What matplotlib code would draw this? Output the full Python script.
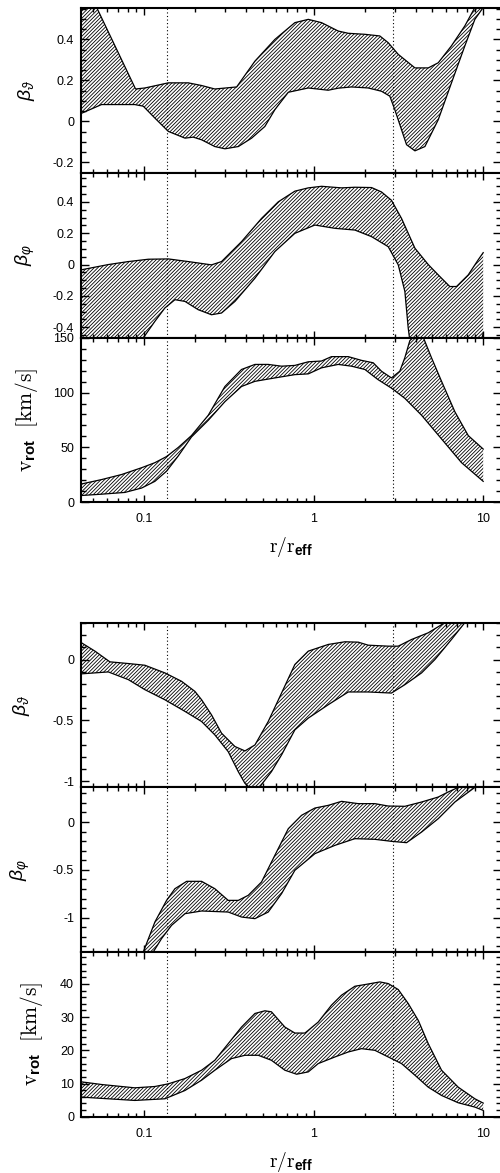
import numpy as np
import matplotlib
matplotlib.use('Agg')
import matplotlib.pyplot as plt
from matplotlib.collections import LineCollection
from matplotlib.ticker import MultipleLocator, FuncFormatter, LogLocator, NullFormatter, FixedLocator, FixedFormatter

plt.rcParams.update({
    'font.family': ['Liberation Sans', 'DejaVu Sans'],
    'mathtext.fontset': 'custom',
    'mathtext.rm': 'cmr10',
    'mathtext.it': 'Liberation Sans:italic',
    'mathtext.bf': 'Liberation Sans:bold',
    'mathtext.fallback': 'cm',
    'axes.unicode_minus': False,
    'axes.linewidth': 1.5,
})

# ---------------- data ----------------
# radii of the two vertical dotted markers
r_marks = [0.1355, 2.94]

# upper group: beta_theta
r_bt1_hi = [0.0423, 0.0524, 0.0889, 0.1009, 0.1387, 0.182, 0.218, 0.261, 0.351, 0.450, 0.590, 0.774, 0.929, 1.112, 1.395, 1.599, 2.005, 2.455, 2.752, 3.154, 3.956, 4.74, 5.43, 6.50, 7.79, 8.93, 10.0]
bt1_hi = [0.70, 0.556, 0.158, 0.163, 0.188, 0.188, 0.175, 0.158, 0.168, 0.294, 0.400, 0.482, 0.498, 0.482, 0.441, 0.430, 0.425, 0.417, 0.384, 0.327, 0.261, 0.261, 0.286, 0.369, 0.466, 0.556, 0.62]
r_bt1_lo = [0.0423, 0.056, 0.088, 0.0987, 0.1156, 0.1387, 0.174, 0.1946, 0.218, 0.261, 0.2993, 0.359, 0.430, 0.515, 0.590, 0.708, 0.929, 1.218, 1.395, 1.671, 2.097, 2.512, 2.812, 3.01, 3.53, 3.956, 4.53, 5.43, 6.50, 7.79, 8.93, 10.0]
bt1_lo = [0.038, 0.082, 0.082, 0.074, 0.016, -0.049, -0.082, -0.077, -0.090, -0.123, -0.134, -0.123, -0.082, -0.025, 0.057, 0.142, 0.163, 0.152, 0.162, 0.168, 0.163, 0.147, 0.123, 0.057, -0.114, -0.144, -0.123, 0.008, 0.188, 0.368, 0.498, 0.556]

# upper group: beta_phi
r_bp1_hi = [0.0423, 0.0614, 0.0805, 0.1057, 0.1387, 0.182, 0.2494, 0.2858, 0.375, 0.492, 0.618, 0.774, 0.929, 1.112, 1.459, 1.750, 2.194, 2.512, 2.875, 3.298, 3.956, 4.74, 5.43, 6.35, 6.96, 8.16, 9.34, 10.0]
bp1_hi = [-0.034, 0.0, 0.019, 0.034, 0.036, 0.019, -0.002, 0.019, 0.146, 0.294, 0.400, 0.468, 0.489, 0.499, 0.489, 0.493, 0.491, 0.463, 0.410, 0.294, 0.104, 0.0, -0.066, -0.140, -0.140, -0.066, 0.030, 0.076]
r_bp1_lo = [0.0423, 0.07, 0.0987, 0.1156, 0.1324, 0.1518, 0.174, 0.2084, 0.2494, 0.2858, 0.343, 0.450, 0.590, 0.774, 1.016, 1.334, 1.750, 2.194, 2.752, 3.154, 3.45, 3.61, 3.78, 4.5, 6.0, 8.0, 9.5, 10.0]
bp1_lo = [-0.95, -0.65, -0.468, -0.362, -0.277, -0.224, -0.235, -0.288, -0.320, -0.309, -0.235, -0.087, 0.083, 0.199, 0.252, 0.231, 0.220, 0.178, 0.114, -0.002, -0.171, -0.404, -0.57, -0.85, -0.85, -0.7, -0.52, -0.44]

# upper group: v_rot
r_v1_hi = [0.0426, 0.056, 0.0735, 0.0965, 0.1156, 0.1355, 0.1589, 0.190, 0.2387, 0.2993, 0.375, 0.450, 0.539, 0.646, 0.774, 0.929, 1.112, 1.273, 1.599, 1.914, 2.244, 2.512, 2.875, 3.22, 3.45, 3.69, 3.956, 4.43, 4.95, 5.68, 6.81, 8.16, 10.0]
v1_hi = [16.7, 20.7, 25.3, 31.5, 36.1, 41.7, 50.0, 60.8, 79.3, 105.5, 121.0, 125.6, 125.6, 124.0, 124.7, 128.0, 128.7, 132.7, 132.7, 129.3, 127.1, 119.4, 113.3, 119.4, 131.8, 147.2, 151.8, 150.3, 131.8, 110.2, 82.4, 60.8, 48.5]
r_v1_lo = [0.0426, 0.056, 0.0769, 0.0965, 0.1156, 0.1355, 0.1589, 0.190, 0.2387, 0.2993, 0.375, 0.450, 0.590, 0.774, 0.929, 1.112, 1.395, 1.671, 2.005, 2.40, 2.875, 3.45, 4.33, 5.68, 7.45, 10.0]
v1_lo = [6.2, 7.4, 9.0, 13.0, 19.1, 28.4, 42.3, 59.5, 74.7, 91.7, 105.5, 110.2, 113.3, 116.3, 117.0, 122.5, 125.6, 124.0, 121.0, 111.7, 104.0, 94.7, 79.3, 57.7, 36.1, 19.1]

# lower group: beta_theta
r_bt2_hi = [0.0426, 0.0512, 0.0627, 0.0805, 0.1009, 0.1324, 0.166, 0.199, 0.218, 0.2494, 0.2858, 0.343, 0.393, 0.450, 0.539, 0.646, 0.774, 0.929, 1.218, 1.527, 1.830, 2.097, 2.752, 3.154, 3.78, 4.74, 5.94, 6.5, 10.0]
bt2_hi = [0.138, 0.069, -0.019, -0.033, -0.047, -0.110, -0.179, -0.262, -0.331, -0.455, -0.606, -0.716, -0.752, -0.703, -0.510, -0.276, -0.041, 0.069, 0.124, 0.146, 0.143, 0.118, 0.110, 0.110, 0.165, 0.220, 0.303, 0.33, 0.6]
r_bt2_lo = [0.0426, 0.0614, 0.0805, 0.1009, 0.1324, 0.174, 0.218, 0.261, 0.313, 0.359, 0.393, 0.430, 0.481, 0.563, 0.646, 0.774, 0.929, 1.218, 1.599, 2.097, 2.875, 3.45, 4.33, 5.19, 6.50, 7.79, 10.0]
bt2_lo = [-0.118, -0.102, -0.165, -0.248, -0.331, -0.427, -0.510, -0.620, -0.758, -0.923, -1.019, -1.07, -1.047, -0.923, -0.785, -0.579, -0.482, -0.372, -0.267, -0.267, -0.276, -0.207, -0.110, 0.0, 0.165, 0.303, 0.5]

# lower group: beta_phi
r_bp2_hi = [0.09, 0.0987, 0.1156, 0.1355, 0.1518, 0.178, 0.218, 0.261, 0.313, 0.359, 0.411, 0.492, 0.590, 0.708, 0.848, 1.016, 1.218, 1.459, 1.830, 2.296, 2.752, 3.45, 4.33, 5.43, 6.22, 7.13, 10.0]
bp2_hi = [-1.63, -1.359, -1.045, -0.819, -0.697, -0.620, -0.620, -0.697, -0.819, -0.819, -0.766, -0.627, -0.348, -0.070, 0.070, 0.146, 0.174, 0.216, 0.192, 0.192, 0.167, 0.164, 0.209, 0.261, 0.314, 0.362, 0.6]
r_bp2_lo = [0.09, 0.1, 0.113, 0.1265, 0.145, 0.174, 0.218, 0.313, 0.375, 0.450, 0.539, 0.646, 0.774, 1.016, 1.334, 1.750, 2.296, 2.875, 3.53, 4.33, 5.43, 6.81, 8.93, 10.0]
bp2_lo = [-1.9, -1.62, -1.359, -1.219, -1.080, -0.958, -0.930, -0.941, -0.993, -1.010, -0.941, -0.749, -0.505, -0.331, -0.244, -0.174, -0.181, -0.202, -0.216, -0.105, 0.035, 0.209, 0.362, 0.45]

# lower group: v_rot
r_v2_hi = [0.0426, 0.056, 0.088, 0.1156, 0.1387, 0.174, 0.218, 0.261, 0.313, 0.375, 0.450, 0.515, 0.563, 0.676, 0.774, 0.888, 1.063, 1.273, 1.459, 1.750, 2.005, 2.455, 2.752, 3.154, 3.61, 4.14, 4.74, 5.68, 7.12, 8.93, 10.0]
v2_hi = [10.5, 9.7, 8.7, 9.1, 9.9, 11.5, 14.0, 17.0, 22.0, 27.0, 31.1, 31.9, 31.6, 27.0, 25.2, 25.2, 28.5, 33.6, 36.6, 39.3, 39.8, 40.6, 40.1, 38.3, 34.1, 29.0, 22.0, 14.0, 8.9, 5.4, 4.1]
r_v2_lo = [0.0426, 0.0614, 0.088, 0.1324, 0.174, 0.218, 0.261, 0.327, 0.393, 0.471, 0.563, 0.676, 0.793, 0.929, 1.063, 1.334, 1.599, 1.914, 2.296, 2.752, 3.298, 3.956, 4.74, 5.68, 7.12, 8.93, 10.0]
v2_lo = [5.9, 5.4, 4.9, 5.4, 7.9, 11.0, 14.0, 17.5, 18.5, 18.5, 17.0, 14.0, 12.8, 13.5, 16.0, 18.0, 19.5, 20.5, 20.0, 18.0, 16.0, 12.5, 8.9, 6.4, 4.2, 2.9, 1.9]

x_ticks = [0.1, 1, 10]
x_ticklabels = ['0.1', '1', '10']
lab_bt = r'$\beta_{\vartheta}$'
lab_bp = r'$\beta_{\varphi}$'
lab_v = r'$\mathrm{v}_{\mathbf{rot}}\ \ \mathrm{[km/s]}$'
lab_x = r'$\mathrm{r/r}_{\mathbf{eff}}$'

# ---------------- layout ----------------
W, H = 500.0, 1173.0
fig = plt.figure(figsize=(W / 100, H / 100), dpi=100)
left_px, right_px = 81.0, 501.5
ph = 164.67
group_tops = [8.3, 622.7]
xlabel_y = [-0.271, -0.272]
xlim = (10 ** -1.373, 10 ** 1.108)
hatch_step_px = 3.6   # horizontal spacing of the 45-degree hatch lines
hatch_lw = 0.6


def hatch_lines(ax_w_px, ax_h_px, step_px):
    """Diagonal hatch segments in axes-fraction coordinates (style only)."""
    segs = []
    x0 = -ax_h_px
    while x0 < ax_w_px:
        segs.append([(x0 / ax_w_px, 0.0), ((x0 + ax_h_px) / ax_w_px, 1.0)])
        x0 += step_px
    return segs


panels = [
    # group, index, (r_hi, hi, r_lo, lo), ylim, major, minor, label, labelx, labelsize
    (0, 0, (r_bt1_hi, bt1_hi, r_bt1_lo, bt1_lo), (-0.252, 0.552), 0.2, 0.05, lab_bt, -0.105, 14),
    (0, 1, (r_bp1_hi, bp1_hi, r_bp1_lo, bp1_lo), (-0.466, 0.584), 0.2, 0.05, lab_bp, -0.105, 14),
    (0, 2, (r_v1_hi, v1_hi, r_v1_lo, v1_lo), (0, 150), 50, 10, lab_v, -0.097, 15.5),
    (1, 0, (r_bt2_hi, bt2_hi, r_bt2_lo, bt2_lo), (-1.052, 0.303), 0.5, 0.1, lab_bt, -0.117, 14),
    (1, 1, (r_bp2_hi, bp2_hi, r_bp2_lo, bp2_lo), (-1.359, 0.362), 0.5, 0.1, lab_bp, -0.117, 14),
    (1, 2, (r_v2_hi, v2_hi, r_v2_lo, v2_lo), (0, 49.6), 10, 2, lab_v, -0.086, 15.5),
]

fmt = FuncFormatter(lambda v, p: ('%g' % round(v, 6)))

for g, i, (rh, yh, rl, yl), ylim, major, minor, ylab, lx, lsz in panels:
    ytop = group_tops[g] + i * ph
    ax = fig.add_axes([left_px / W, 1 - (ytop + ph) / H, (right_px - left_px) / W, ph / H])
    ax.set_xscale('log')
    ax.set_xlim(*xlim)
    ax.set_ylim(*ylim)
    xs = np.concatenate([np.asarray(rh), np.asarray(rl)[::-1]])
    ys = np.concatenate([np.asarray(yh), np.asarray(yl)[::-1]])
    band = ax.fill(xs, ys, facecolor='none', edgecolor='none', linewidth=0)[0]
    lc = LineCollection(hatch_lines(right_px - left_px, ph, hatch_step_px),
                        transform=ax.transAxes, colors='black', linewidths=hatch_lw)
    ax.add_collection(lc, autolim=False)
    lc.set_clip_path(band)
    ax.plot(rh, yh, color='black', lw=0.9)
    ax.plot(rl, yl, color='black', lw=0.9)
    for rm in r_marks:
        ax.axvline(rm, color='black', lw=0.8, ls=(0, (1, 2.2)))
    ax.set_xlim(*xlim)
    ax.set_ylim(*ylim)
    ax.yaxis.set_major_locator(MultipleLocator(major))
    ax.yaxis.set_minor_locator(MultipleLocator(minor))
    ax.yaxis.set_major_formatter(fmt)
    ax.xaxis.set_major_locator(FixedLocator(x_ticks))
    ax.xaxis.set_minor_locator(LogLocator(base=10, subs=np.arange(2, 10)))
    ax.xaxis.set_minor_formatter(NullFormatter())
    ax.tick_params(which='both', direction='in', top=True, right=True, width=1.0)
    ax.tick_params(axis='y', which='major', length=6, labelsize=9, pad=5)
    ax.tick_params(axis='y', which='minor', length=3.5)
    ax.tick_params(axis='x', which='major', length=5, labelsize=9, pad=8)
    ax.tick_params(axis='x', which='minor', length=3)
    if i == 2:
        ax.xaxis.set_major_formatter(FixedFormatter(x_ticklabels))
        ax.set_xlabel(lab_x, fontsize=14, va='center')
        ax.xaxis.set_label_coords(0.5, xlabel_y[g])
    else:
        ax.xaxis.set_major_formatter(NullFormatter())
    ax.set_ylabel(ylab, fontsize=lsz)
    ax.yaxis.set_label_coords(lx, 0.5)

fig.savefig('out.png', dpi=100)
